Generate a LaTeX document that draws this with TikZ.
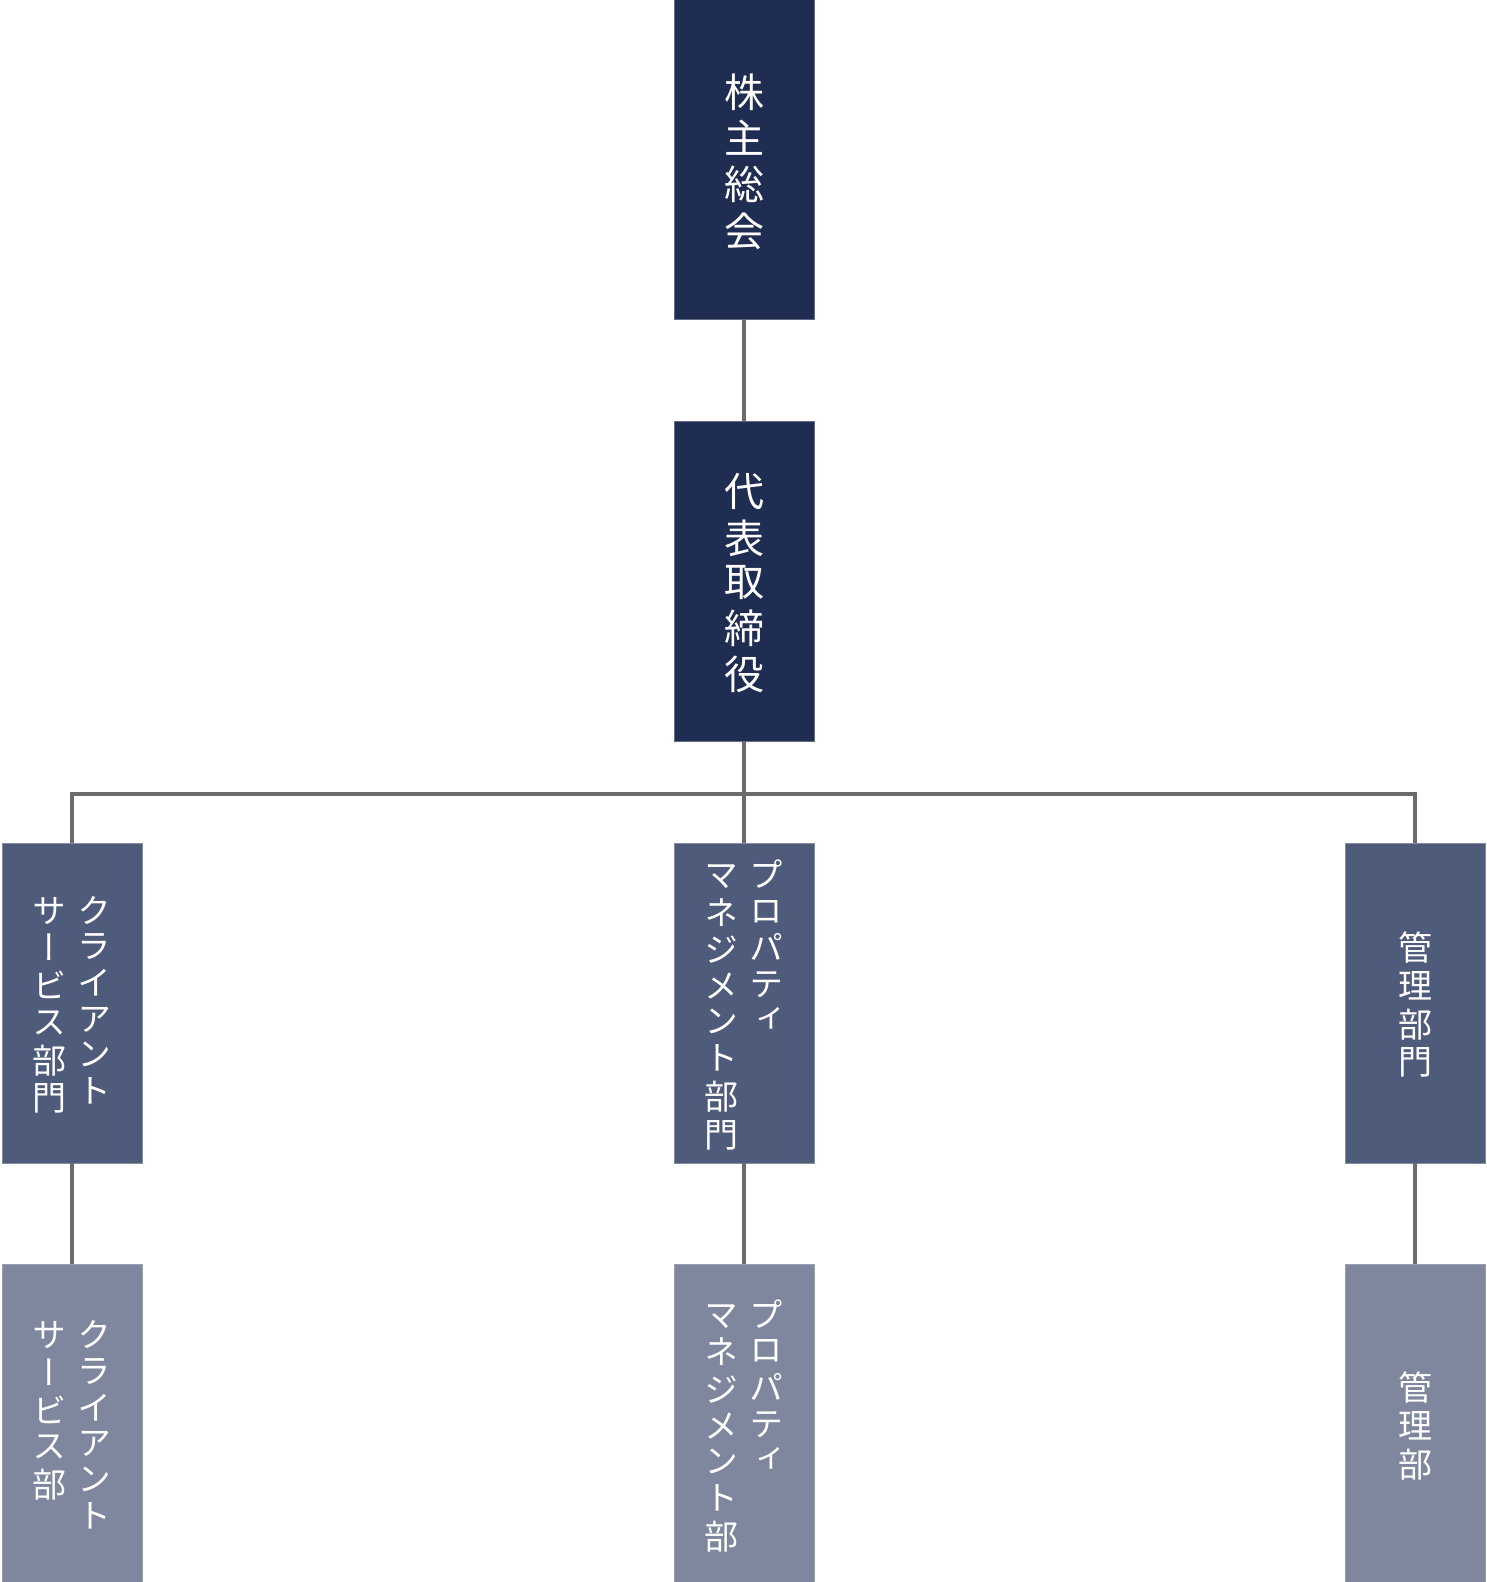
\documentclass[tikz,border=0pt]{standalone}
\usepackage{fontspec}
\newfontfamily\jp[RawFeature=+vert]{Noto Sans CJK JP}
\definecolor{lvA}{HTML}{1F2D52}
\definecolor{lvB}{HTML}{4F5B7A}
\definecolor{lvC}{HTML}{7F879E}
\definecolor{conn}{HTML}{6B6B6B}
\newcommand\vcol[1]{\begin{tabular}[t]{@{}c@{}}#1\end{tabular}}
\newcommand\vtext[1]{\raisebox{-0.17em}[\height][\depth]{#1}}
\tikzset{
  orgbox/.style={minimum width=140pt, minimum height=320pt, inner sep=0pt, outer sep=0pt, text=white},
  topbox/.style={orgbox, fill=lvA, draw=lvA!70!white, line width=0.6pt, font=\jp\fontsize{40}{42}\selectfont},
  midbox/.style={orgbox, fill=lvB, draw=lvB!70!white, line width=0.6pt, font=\jp\fontsize{34}{35.5}\selectfont},
  lowbox/.style={orgbox, fill=lvC, draw=lvC!80!white, line width=0.6pt, font=\jp\fontsize{34}{35.5}\selectfont},
  link/.style={draw=conn, line width=3.2pt}
}
\begin{document}
\begin{tikzpicture}[x=1pt,y=-1pt]
\useasboundingbox (0,0) rectangle (1487,1582);
\fill[white] (0,0) rectangle (1487,1582);
\coordinate (bus) at (0,794);
\node[topbox] (b1) at (744,159.5) {\vtext{\vcol{株\\主\\総\\会}}};
\node[topbox] (b2) at (744,581) {\vtext{\vcol{代\\表\\取\\締\\役}}};
\node[midbox] (l3) at (72,1003) {\vtext{\vcol{サ\\ー\\ビ\\ス\\部\\門}\hspace{11pt}\vcol{ク\\ラ\\イ\\ア\\ン\\ト}}};
\node[midbox] (m3) at (744,1003) {\vtext{\vcol{マ\\ネ\\ジ\\メ\\ン\\ト\\部\\門}\hspace{11pt}\vcol{プ\\ロ\\パ\\テ\\ィ}}};
\node[midbox] (r3) at (1415,1003) {\vtext{\vcol{管\\理\\部\\門}}};
\node[lowbox] (l4) at (72,1424) {\vtext{\vcol{サ\\ー\\ビ\\ス\\部}\hspace{11pt}\vcol{ク\\ラ\\イ\\ア\\ン\\ト}}};
\node[lowbox] (m4) at (744,1424) {\vtext{\vcol{マ\\ネ\\ジ\\メ\\ン\\ト\\部}\hspace{11pt}\vcol{プ\\ロ\\パ\\テ\\ィ}}};
\node[lowbox] (r4) at (1415,1424) {\vtext{\vcol{管\\理\\部}}};
\draw[link] (b1.south) -- (b2.north);
\draw[link] (b2.south) -- (m3.north);
\draw[link] (l3.north) -- (l3.north |- bus) -- (r3.north |- bus) -- (r3.north);
\draw[link] (l3.south) -- (l4.north);
\draw[link] (m3.south) -- (m4.north);
\draw[link] (r3.south) -- (r4.north);
\end{tikzpicture}
\end{document}
